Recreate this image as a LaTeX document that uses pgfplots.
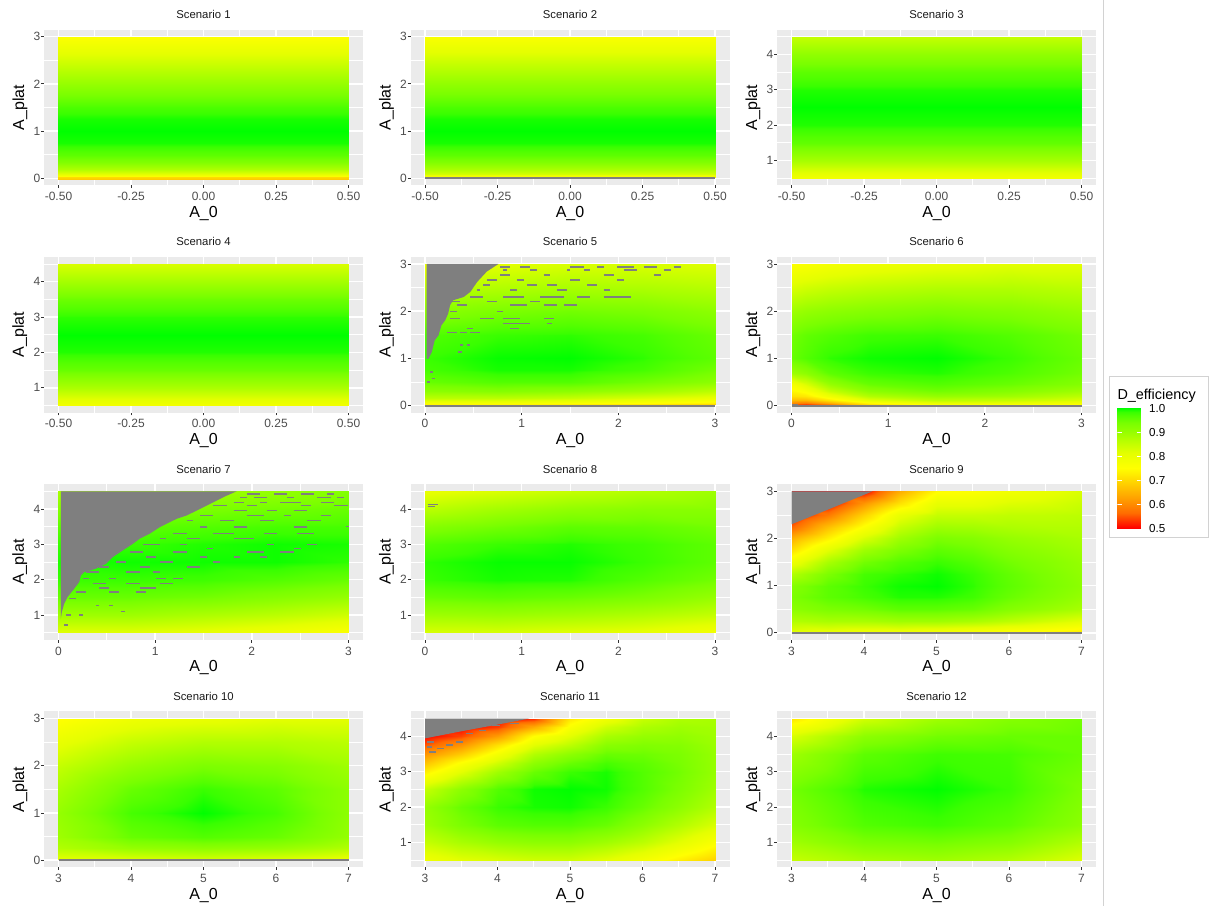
\documentclass[border=0pt]{standalone}
\usepackage{fontspec}
\setmainfont{Liberation Sans}
\usepackage{pgfplots}
\pgfplotsset{compat=1.18}
\definecolor{ggbg}{HTML}{EBEBEB}
\definecolor{gray50}{HTML}{7F7F7F}
\definecolor{gg30}{HTML}{4D4D4D}
\definecolor{gg20}{HTML}{333333}
\definecolor{gg10}{HTML}{1A1A1A}
\definecolor{frame}{HTML}{D2D2D2}
\pgfplotsset{
 colormap={eff}{rgb255(0cm)=(255,0,0); rgb255(2cm)=(255,108,0); rgb255(4cm)=(255,161,0); rgb255(6cm)=(255,209,0); rgb255(8cm)=(255,255,0); rgb255(10cm)=(228,255,0); rgb255(12cm)=(174,255,0); rgb255(13cm)=(147,255,0); rgb255(14cm)=(121,255,0); rgb255(15cm)=(83,255,0); rgb255(15.5cm)=(57,255,0); rgb255(16cm)=(0,255,0)},
 panel/.style={
  scale only axis, width=239.25pt, height=116.8pt, anchor=north west,
  axis background/.style={fill=ggbg},
  axis line style={draw=none},
  tick align=outside, tick pos=left,
  major tick length=2.1pt, minor tick length=0pt,
  major tick style={draw=gg20, line width=0.55pt},
  minor tick style={draw=none},
  grid=both,
  major grid style={draw=white, line width=1.1pt},
  minor grid style={draw=white, line width=0.55pt},
  tick label style={font=\fontsize{9}{10}\selectfont, text=gg30},
  xticklabel style={inner sep=0pt, yshift=-2.9pt},
  yticklabel style={inner sep=0pt, xshift=-0.4pt},
  /pgf/number format/assume math mode=true,
  every axis title/.style={at={(axis description cs:0.5,1.0702)}, anchor=base, font=\fontsize{8.5}{9}\selectfont, text=gg10, inner sep=0pt},
  every axis x label/.style={at={(axis description cs:0.5,-0.2055)}, anchor=base, font=\fontsize{12}{13}\selectfont, inner sep=0pt},
  every axis y label/.style={at={(axis description cs:-0.0627,0.5)}, anchor=base, rotate=90, font=\fontsize{12}{13}\selectfont, inner sep=0pt},
  xlabel={A\_0}, ylabel={A\_plat},
  colormap name=eff, point meta min=0.5, point meta max=1,
 },
 xA/.style={xmin=-0.55, xmax=0.55, xtick={-0.5,-0.25,0,0.25,0.5}, xticklabels={-0.50,-0.25,0.00,0.25,0.50}, minor xtick={-0.375,-0.125,0.125,0.375}},
 xB/.style={xmin=-0.15, xmax=3.15, xtick={0,1,2,3}, xticklabels={0,1,2,3}, minor xtick={0.5,1.5,2.5}},
 xC/.style={xmin=2.8, xmax=7.2, xtick={3,4,5,6,7}, xticklabels={3,4,5,6,7}, minor xtick={3.5,4.5,5.5,6.5}},
 yA/.style={ymin=-0.15, ymax=3.15, ytick={0,1,2,3}, yticklabels={0,1,2,3}, minor ytick={0.5,1.5,2.5}},
 yB/.style={ymin=0.3, ymax=4.7, ytick={1,2,3,4}, yticklabels={1,2,3,4}, minor ytick={0.5,1.5,2.5,3.5,4.5}},
 heat/.style={surf, shader=interp, point meta=explicit, forget plot},
 gbox/.style={fill=gray50, draw=none, forget plot},
 dash/.style={draw=none, forget plot, error bars/.cd, x dir=plus, x explicit, error mark=none, error bar style={draw=gray50, line width=1.1pt}},
}
\begin{document}
\begin{tikzpicture}
\path[use as bounding box] (0,0) rectangle (907.5pt,679.5pt);
\draw[frame, line width=0.75pt] (827.6pt,0pt) -- (827.6pt,679.5pt);

% ---------- Scenario 1
\begin{axis}[panel, xA, yA, at={(33pt,657.3pt)}, title={Scenario 1}]
\addplot[heat, mesh/cols=2] table[row sep=\\, x=x, y=y, meta=c] {x y c\\
-0.5 -0.024 0.68\\ 0.5 -0.024 0.68\\
-0.5 0.022 0.70\\ 0.5 0.022 0.70\\
-0.5 0.05 0.763\\ 0.5 0.05 0.763\\
-0.5 0.1 0.813\\ 0.5 0.1 0.813\\
-0.5 0.2 0.877\\ 0.5 0.2 0.877\\
-0.5 0.35 0.929\\ 0.5 0.35 0.929\\
-0.5 0.5 0.961\\ 0.5 0.5 0.961\\
-0.5 0.75 0.9935\\ 0.5 0.75 0.9935\\
-0.5 1.0 1.0\\ 0.5 1.0 1.0\\
-0.5 1.25 0.9935\\ 0.5 1.25 0.9935\\
-0.5 1.5 0.973\\ 0.5 1.5 0.973\\
-0.5 2.0 0.904\\ 0.5 2.0 0.904\\
-0.5 2.5 0.831\\ 0.5 2.5 0.831\\
-0.5 3.0 0.757\\ 0.5 3.0 0.757\\
};
\end{axis}

% ---------- Scenario 2
\begin{axis}[panel, xA, yA, at={(307.875pt,657.3pt)}, title={Scenario 2}]
\addplot[heat, mesh/cols=2] table[row sep=\\, x=x, y=y, meta=c] {x y c\\
-0.5 0.022 0.757\\ 0.5 0.022 0.757\\
-0.5 0.06 0.801\\ 0.5 0.06 0.801\\
-0.5 0.1 0.831\\ 0.5 0.1 0.831\\
-0.5 0.2 0.882\\ 0.5 0.2 0.882\\
-0.5 0.35 0.929\\ 0.5 0.35 0.929\\
-0.5 0.5 0.961\\ 0.5 0.5 0.961\\
-0.5 0.75 0.9935\\ 0.5 0.75 0.9935\\
-0.5 1.0 1.0\\ 0.5 1.0 1.0\\
-0.5 1.25 0.9935\\ 0.5 1.25 0.9935\\
-0.5 1.5 0.973\\ 0.5 1.5 0.973\\
-0.5 2.0 0.909\\ 0.5 2.0 0.909\\
-0.5 2.5 0.837\\ 0.5 2.5 0.837\\
-0.5 3.0 0.763\\ 0.5 3.0 0.763\\
};
\addplot[gbox] coordinates {(-0.5,-0.024) (0.5,-0.024) (0.5,0.022) (-0.5,0.022)} -- cycle;
\end{axis}

% ---------- Scenario 3
\begin{axis}[panel, xA, yB, at={(582.75pt,657.3pt)}, title={Scenario 3}]
\addplot[heat, mesh/cols=2] table[row sep=\\, x=x, y=y, meta=c] {x y c\\
-0.5 0.5 0.782\\ 0.5 0.5 0.782\\
-0.5 1.0 0.882\\ 0.5 1.0 0.882\\
-0.5 1.5 0.957\\ 0.5 1.5 0.957\\
-0.5 2.0 0.991\\ 0.5 2.0 0.991\\
-0.5 2.5 1.0\\ 0.5 2.5 1.0\\
-0.5 3.0 0.991\\ 0.5 3.0 0.991\\
-0.5 3.5 0.961\\ 0.5 3.5 0.961\\
-0.5 4.0 0.909\\ 0.5 4.0 0.909\\
-0.5 4.5 0.849\\ 0.5 4.5 0.849\\
};
\end{axis}

% ---------- Scenario 4
\begin{axis}[panel, xA, yB, at={(33pt,486.825pt)}, title={Scenario 4}]
\addplot[heat, mesh/cols=2] table[row sep=\\, x=x, y=y, meta=c] {x y c\\
-0.5 0.5 0.776\\ 0.5 0.5 0.776\\
-0.5 1.0 0.877\\ 0.5 1.0 0.877\\
-0.5 1.5 0.952\\ 0.5 1.5 0.952\\
-0.5 2.0 0.991\\ 0.5 2.0 0.991\\
-0.5 2.5 1.0\\ 0.5 2.5 1.0\\
-0.5 3.0 0.9875\\ 0.5 3.0 0.9875\\
-0.5 3.5 0.948\\ 0.5 3.5 0.948\\
-0.5 4.0 0.888\\ 0.5 4.0 0.888\\
-0.5 4.5 0.825\\ 0.5 4.5 0.825\\
};
\end{axis}

% ---------- Scenario 5
\begin{axis}[panel, xB, yA, at={(307.875pt,486.825pt)}, title={Scenario 5}]
\addplot[heat, mesh/cols=5] table[row sep=\\, x=x, y=y, meta=c] {x y c\\
0 0.022 0.70\\ 0.75 0.022 0.70\\ 1.5 0.022 0.69\\ 2.25 0.022 0.68\\ 3 0.022 0.66\\
0 0.06 0.776\\ 0.75 0.06 0.776\\ 1.5 0.06 0.763\\ 2.25 0.06 0.75\\ 3 0.06 0.73\\
0 0.15 0.860\\ 0.75 0.15 0.860\\ 1.5 0.15 0.849\\ 2.25 0.15 0.825\\ 3 0.15 0.801\\
0 0.3 0.914\\ 0.75 0.3 0.924\\ 1.5 0.3 0.914\\ 2.25 0.3 0.893\\ 3 0.3 0.860\\
0 0.5 0.952\\ 0.75 0.5 0.969\\ 1.5 0.5 0.969\\ 2.25 0.5 0.943\\ 3 0.5 0.914\\
0 0.75 0.977\\ 0.75 0.75 0.9935\\ 1.5 0.75 0.9935\\ 2.25 0.75 0.977\\ 3 0.75 0.943\\
0 1.0 0.984\\ 0.75 1.0 0.998\\ 1.5 1.0 1.0\\ 2.25 1.0 0.9875\\ 3 1.0 0.961\\
0 1.5 0.969\\ 0.75 1.5 0.984\\ 1.5 1.5 0.9875\\ 2.25 1.5 0.977\\ 3 1.5 0.952\\
0 2.0 0.914\\ 0.75 2.0 0.934\\ 1.5 2.0 0.943\\ 2.25 2.0 0.934\\ 3 2.0 0.914\\
0 2.5 0.860\\ 0.75 2.5 0.871\\ 1.5 2.5 0.882\\ 2.25 2.5 0.877\\ 3 2.5 0.866\\
0 3.0 0.801\\ 0.75 3.0 0.813\\ 1.5 3.0 0.825\\ 2.25 3.0 0.825\\ 3 3.0 0.819\\
};
\addplot[gbox] coordinates {(0,-0.024) (3,-0.024) (3,0.022) (0,0.022)} -- cycle;
\addplot[gbox] coordinates {(0.017,3.0) (0.76,3.0) (0.64,2.84) (0.54,2.62) (0.47,2.41) (0.40,2.30) (0.29,2.23) (0.26,2.13) (0.24,1.95) (0.21,1.81) (0.17,1.70) (0.14,1.49) (0.10,1.38) (0.07,1.13) (0.035,0.99) (0.017,0.99)} -- cycle;
\addplot[dash] table[row sep=\\, x=x, y=y, x error=w] {x y w\\
0.778 2.94 0.103\\ 0.985 2.94 0.104\\ 1.504 2.94 0.138\\ 1.780 2.94 0.069\\ 1.988 2.94 0.172\\ 2.264 2.94 0.138\\ 2.575 2.94 0.069\\
0.812 2.87 0.035\\ 1.089 2.87 0.069\\ 1.469 2.87 0.035\\ 1.642 2.87 0.069\\ 2.057 2.87 0.138\\ 2.471 2.87 0.070\\
0.778 2.77 0.103\\ 1.227 2.77 0.069\\ 1.849 2.77 0.104\\ 2.368 2.77 0.069\\
0.639 2.66 0.104\\ 0.951 2.66 0.069\\ 1.504 2.66 0.103\\ 1.988 2.66 0.069\\
0.605 2.55 0.069\\ 1.054 2.55 0.104\\ 1.262 2.55 0.103\\ 1.676 2.55 0.104\\
0.536 2.45 0.034\\ 0.881 2.45 0.070\\ 1.365 2.45 0.104\\ 1.849 2.45 0.069\\
0.467 2.30 0.138\\ 0.812 2.30 0.208\\ 1.193 2.30 0.241\\ 1.573 2.30 0.138\\ 1.849 2.30 0.277\\
0.190 2.20 0.173\\ 0.639 2.20 0.104\\ 1.089 2.20 0.104\\
0.328 2.13 0.104\\ 0.881 2.13 0.173\\ 1.227 2.13 0.138\\ 1.434 2.13 0.139\\
0.259 1.99 0.069\\ 0.743 1.99 0.069\\
0.259 1.84 0.104\\ 0.570 1.84 0.139\\ 0.812 1.84 0.173\\ 1.227 1.84 0.104\\
0.812 1.74 0.277\\ 1.262 1.74 0.051\\
0.432 1.63 0.069\\ 0.881 1.63 0.087\\
0.225 1.55 0.103\\ 0.363 1.55 0.069\\ 0.467 1.55 0.103\\
0.363 1.28 0.035\\ 0.432 1.28 0.035\\
0.346 1.13 0.034\\
0.052 0.71 0.034\\
0.069 0.57 0.035\\
0.024 0.50 0.028\\
};
\end{axis}

% ---------- Scenario 6
\begin{axis}[panel, xB, yA, at={(582.75pt,486.825pt)}, title={Scenario 6}]
\addplot[heat, mesh/cols=7] table[row sep=\\, x=x, y=y, meta=c] {x y c\\
0 0.022 0.55\\ 0.15 0.022 0.50\\ 0.4 0.022 0.55\\ 0.8 0.022 0.68\\ 1.5 0.022 0.74\\ 2.25 0.022 0.74\\ 3 0.022 0.73\\
0 0.06 0.60\\ 0.15 0.06 0.58\\ 0.4 0.06 0.64\\ 0.8 0.06 0.74\\ 1.5 0.06 0.801\\ 2.25 0.06 0.801\\ 3 0.06 0.776\\
0 0.12 0.66\\ 0.15 0.12 0.66\\ 0.4 0.12 0.72\\ 0.8 0.12 0.813\\ 1.5 0.12 0.860\\ 2.25 0.12 0.849\\ 3 0.12 0.825\\
0 0.2 0.71\\ 0.15 0.2 0.72\\ 0.4 0.2 0.788\\ 0.8 0.2 0.871\\ 1.5 0.2 0.904\\ 2.25 0.2 0.893\\ 3 0.2 0.860\\
0 0.3 0.74\\ 0.15 0.3 0.763\\ 0.4 0.3 0.849\\ 0.8 0.3 0.914\\ 1.5 0.3 0.943\\ 2.25 0.3 0.924\\ 3 0.3 0.893\\
0 0.45 0.776\\ 0.15 0.45 0.825\\ 0.4 0.45 0.904\\ 0.8 0.45 0.952\\ 1.5 0.45 0.969\\ 2.25 0.45 0.952\\ 3 0.45 0.924\\
0 0.7 0.893\\ 0.15 0.7 0.914\\ 0.4 0.7 0.961\\ 0.8 0.7 0.984\\ 1.5 0.7 0.991\\ 2.25 0.7 0.973\\ 3 0.7 0.943\\
0 1.0 0.952\\ 0.15 1.0 0.969\\ 0.4 1.0 0.9875\\ 0.8 1.0 0.996\\ 1.5 1.0 1.0\\ 2.25 1.0 0.984\\ 3 1.0 0.952\\
0 1.5 0.943\\ 0.15 1.5 0.957\\ 0.4 1.5 0.969\\ 0.8 1.5 0.981\\ 1.5 1.5 0.984\\ 2.25 1.5 0.969\\ 3 1.5 0.943\\
0 2.0 0.893\\ 0.15 2.0 0.904\\ 0.4 2.0 0.914\\ 0.8 2.0 0.924\\ 1.5 2.0 0.934\\ 2.25 2.0 0.924\\ 3 2.0 0.904\\
0 2.5 0.825\\ 0.15 2.5 0.837\\ 0.4 2.5 0.849\\ 0.8 2.5 0.860\\ 1.5 2.5 0.871\\ 2.25 2.5 0.871\\ 3 2.5 0.860\\
0 3.0 0.757\\ 0.15 3.0 0.763\\ 0.4 3.0 0.776\\ 0.8 3.0 0.788\\ 1.5 3.0 0.801\\ 2.25 3.0 0.813\\ 3 3.0 0.813\\
};
\addplot[gbox] coordinates {(0,-0.024) (3,-0.024) (3,0.022) (0,0.022)} -- cycle;
\addplot[gbox] coordinates {(0,-0.024) (0.07,-0.024) (0.07,0.035) (0,0.035)} -- cycle;
\end{axis}

% ---------- Scenario 7
\begin{axis}[panel, xB, yB, at={(33pt,316.35pt)}, title={Scenario 7}]
\addplot[heat, mesh/cols=5] table[row sep=\\, x=x, y=y, meta=c] {x y c\\
0 0.5 0.813\\ 0.75 0.5 0.813\\ 1.5 0.5 0.801\\ 2.25 0.5 0.782\\ 3 0.5 0.757\\
0 1.0 0.893\\ 0.75 1.0 0.893\\ 1.5 1.0 0.877\\ 2.25 1.0 0.860\\ 3 1.0 0.837\\
0 1.5 0.952\\ 0.75 1.5 0.952\\ 1.5 1.5 0.943\\ 2.25 1.5 0.924\\ 3 1.5 0.904\\
0 2.0 0.984\\ 0.75 2.0 0.984\\ 1.5 2.0 0.981\\ 2.25 2.0 0.969\\ 3 2.0 0.952\\
0 2.5 0.991\\ 0.75 2.5 0.996\\ 1.5 2.5 0.996\\ 2.25 2.5 0.996\\ 3 2.5 0.9875\\
0 3.0 0.984\\ 0.75 3.0 0.984\\ 1.5 3.0 0.991\\ 2.25 3.0 0.996\\ 3 3.0 0.9935\\
0 3.5 0.961\\ 0.75 3.5 0.961\\ 1.5 3.5 0.969\\ 2.25 3.5 0.977\\ 3 3.5 0.977\\
0 4.0 0.924\\ 0.75 4.0 0.924\\ 1.5 4.0 0.934\\ 2.25 4.0 0.943\\ 3 4.0 0.952\\
0 4.5 0.882\\ 0.75 4.5 0.882\\ 1.5 4.5 0.893\\ 2.25 4.5 0.904\\ 3 4.5 0.924\\
};
\addplot[gbox] coordinates {(0.024,4.5) (1.845,4.5) (1.741,4.378) (1.602,4.19) (1.464,4.0) (1.325,3.815) (1.221,3.72) (1.117,3.58) (1.048,3.486) (0.943,3.30) (0.839,3.157) (0.77,3.016) (0.666,2.83) (0.562,2.64) (0.493,2.453) (0.388,2.312) (0.267,2.218) (0.232,2.124) (0.215,1.937) (0.163,1.749) (0.094,1.514) (0.059,1.326) (0.035,1.092) (0.024,0.904)} -- cycle;
\addplot[dash] table[row sep=\\, x=x, y=y, x error=w] {x y w\\
1.949 4.42 0.139\\ 2.227 4.42 0.139\\ 2.504 4.42 0.139\\ 2.782 4.42 0.069\\
1.880 4.33 0.069\\ 2.019 4.33 0.138\\ 2.366 4.33 0.069\\ 2.678 4.33 0.139\\ 2.886 4.33 0.069\\
1.811 4.19 0.104\\ 2.088 4.19 0.069\\ 2.296 4.19 0.208\\ 2.712 4.19 0.139\\
1.602 4.10 0.139\\ 1.949 4.10 0.104\\ 2.504 4.10 0.104\\ 2.851 4.10 0.139\\
1.811 3.96 0.138\\ 2.157 3.96 0.105\\ 2.435 3.96 0.139\\
1.464 3.81 0.138\\ 1.949 3.81 0.174\\ 2.331 3.81 0.069\\ 2.712 3.81 0.105\\
1.325 3.67 0.069\\ 1.672 3.67 0.139\\ 2.088 3.67 0.139\\ 2.574 3.67 0.138\\
2.973 3.51 0.027\\
1.464 3.49 0.069\\ 1.811 3.49 0.138\\ 2.435 3.49 0.139\\
1.186 3.30 0.139\\ 1.602 3.30 0.209\\ 2.123 3.30 0.139\\ 2.470 3.30 0.173\\
1.048 3.16 0.069\\ 1.325 3.16 0.139\\ 1.811 3.16 0.208\\
0.874 2.99 0.174\\ 1.256 2.99 0.069\\ 2.157 2.99 0.070\\ 2.574 2.99 0.104\\
1.533 2.89 0.069\\ 2.435 2.89 0.069\\
0.735 2.78 0.139\\ 1.186 2.78 0.139\\ 1.949 2.78 0.174\\ 2.296 2.78 0.139\\
0.908 2.64 0.105\\ 1.464 2.64 0.069\\ 1.811 2.64 0.069\\ 2.088 2.64 0.069\\
0.597 2.50 0.103\\ 1.048 2.50 0.138\\ 1.602 2.50 0.070\\
0.423 2.36 0.104\\ 0.839 2.36 0.104\\ 1.325 2.36 0.139\\
0.284 2.22 0.139\\ 0.700 2.22 0.139\\ 0.978 2.22 0.070\\
0.250 2.03 0.069\\ 0.527 2.03 0.070\\ 1.013 2.03 0.104\\ 1.186 2.03 0.104\\
0.354 1.89 0.139\\ 0.700 1.89 0.139\\ 1.048 1.89 0.138\\
0.423 1.77 0.104\\ 0.839 1.77 0.174\\
0.180 1.65 0.104\\ 0.527 1.65 0.104\\ 0.805 1.65 0.103\\
0.111 1.47 0.069\\
0.388 1.28 0.035\\ 0.527 1.28 0.035\\
0.649 1.11 0.034\\
0.076 1.00 0.052\\ 0.215 1.00 0.035\\
0.059 0.72 0.035\\
};
\end{axis}

% ---------- Scenario 8
\begin{axis}[panel, xB, yB, at={(307.875pt,316.35pt)}, title={Scenario 8}]
\addplot[heat, mesh/cols=5] table[row sep=\\, x=x, y=y, meta=c] {x y c\\
0 0.5 0.825\\ 0.75 0.5 0.825\\ 1.5 0.5 0.813\\ 2.25 0.5 0.801\\ 3 0.5 0.776\\
0 1.0 0.893\\ 0.75 1.0 0.898\\ 1.5 1.0 0.888\\ 2.25 1.0 0.871\\ 3 1.0 0.849\\
0 1.5 0.952\\ 0.75 1.5 0.961\\ 1.5 1.5 0.952\\ 2.25 1.5 0.934\\ 3 1.5 0.904\\
0 2.0 0.984\\ 0.75 2.0 0.9935\\ 1.5 2.0 0.991\\ 2.25 2.0 0.969\\ 3 2.0 0.943\\
0 2.5 0.9875\\ 0.75 2.5 0.998\\ 1.5 2.5 0.998\\ 2.25 2.5 0.984\\ 3 2.5 0.961\\
0 3.0 0.969\\ 0.75 3.0 0.984\\ 1.5 3.0 0.991\\ 2.25 3.0 0.981\\ 3 3.0 0.961\\
0 3.5 0.924\\ 0.75 3.5 0.943\\ 1.5 3.5 0.961\\ 2.25 3.5 0.957\\ 3 3.5 0.943\\
0 4.0 0.860\\ 0.75 4.0 0.888\\ 1.5 4.0 0.909\\ 2.25 4.0 0.919\\ 3 4.0 0.919\\
0 4.5 0.801\\ 0.75 4.5 0.825\\ 1.5 4.5 0.849\\ 2.25 4.5 0.871\\ 3 4.5 0.893\\
};
\addplot[dash] table[row sep=\\, x=x, y=y, x error=w] {x y w\\
0.03 4.13 0.10\\ 0.03 4.07 0.07\\
};
\end{axis}

% ---------- Scenario 9
\begin{axis}[panel, xC, yA, at={(582.75pt,316.35pt)}, title={Scenario 9}]
\addplot[heat, mesh/cols=9] table[row sep=\\, x=x, y=y, meta=c] {x y c\\
3 0.022 0.813\\ 3.5 0.022 0.801\\ 4 0.022 0.788\\ 4.5 0.022 0.788\\ 5 0.022 0.776\\ 5.5 0.022 0.763\\ 6 0.022 0.75\\ 6.5 0.022 0.74\\ 7 0.022 0.72\\
3 0.25 0.871\\ 3.5 0.25 0.882\\ 4 0.25 0.882\\ 4.5 0.25 0.893\\ 5 0.25 0.893\\ 5.5 0.25 0.882\\ 6 0.25 0.860\\ 6.5 0.25 0.837\\ 7 0.25 0.813\\
3 0.5 0.914\\ 3.5 0.5 0.934\\ 4 0.5 0.943\\ 4.5 0.5 0.961\\ 5 0.5 0.961\\ 5.5 0.5 0.952\\ 6 0.5 0.924\\ 6.5 0.5 0.904\\ 7 0.5 0.882\\
3 0.75 0.934\\ 3.5 0.75 0.961\\ 4 0.75 0.977\\ 4.5 0.75 0.991\\ 5 0.75 0.991\\ 5.5 0.75 0.981\\ 6 0.75 0.952\\ 6.5 0.75 0.929\\ 7 0.75 0.904\\
3 1.0 0.924\\ 3.5 1.0 0.961\\ 4 1.0 0.984\\ 4.5 1.0 0.996\\ 5 1.0 1.0\\ 5.5 1.0 0.9875\\ 6 1.0 0.961\\ 6.5 1.0 0.938\\ 7 1.0 0.914\\
3 1.25 0.871\\ 3.5 1.25 0.934\\ 4 1.25 0.977\\ 4.5 1.25 0.9875\\ 5 1.25 0.996\\ 5.5 1.25 0.984\\ 6 1.25 0.957\\ 6.5 1.25 0.934\\ 7 1.25 0.909\\
3 1.5 0.788\\ 3.5 1.5 0.882\\ 4 1.5 0.943\\ 4.5 1.5 0.969\\ 5 1.5 0.984\\ 5.5 1.5 0.969\\ 6 1.5 0.943\\ 6.5 1.5 0.924\\ 7 1.5 0.904\\
3 1.75 0.71\\ 3.5 1.75 0.813\\ 4 1.75 0.893\\ 4.5 1.75 0.934\\ 5 1.75 0.961\\ 5.5 1.75 0.948\\ 6 1.75 0.924\\ 6.5 1.75 0.909\\ 7 1.75 0.893\\
3 2.0 0.645\\ 3.5 2.0 0.73\\ 4 2.0 0.825\\ 4.5 2.0 0.893\\ 5 2.0 0.934\\ 5.5 2.0 0.924\\ 6 2.0 0.904\\ 6.5 2.0 0.893\\ 7 2.0 0.882\\
3 2.25 0.56\\ 3.5 2.25 0.665\\ 4 2.25 0.757\\ 4.5 2.25 0.849\\ 5 2.25 0.893\\ 5.5 2.25 0.888\\ 6 2.25 0.877\\ 6.5 2.25 0.871\\ 7 2.25 0.871\\
3 2.5 0.40\\ 3.5 2.5 0.58\\ 4 2.5 0.69\\ 4.5 2.5 0.801\\ 5 2.5 0.849\\ 5.5 2.5 0.849\\ 6 2.5 0.855\\ 6.5 2.5 0.855\\ 7 2.5 0.860\\
3 2.75 0.35\\ 3.5 2.75 0.40\\ 4 2.75 0.61\\ 4.5 2.75 0.71\\ 5 2.75 0.801\\ 5.5 2.75 0.801\\ 6 2.75 0.819\\ 6.5 2.75 0.825\\ 7 2.75 0.843\\
3 3.0 0.30\\ 3.5 3.0 0.35\\ 4 3.0 0.45\\ 4.5 3.0 0.64\\ 5 3.0 0.745\\ 5.5 3.0 0.757\\ 6 3.0 0.782\\ 6.5 3.0 0.801\\ 7 3.0 0.825\\
};
\addplot[gbox] coordinates {(3,-0.024) (7,-0.024) (7,0.022) (3,0.022)} -- cycle;
\addplot[gbox] coordinates {(3,3.0) (3,2.30) (3.5,2.61) (4.12,3.0)} -- cycle;
\end{axis}

% ---------- Scenario 10
\begin{axis}[panel, xC, yA, at={(33pt,145.875pt)}, title={Scenario 10}]
\addplot[heat, mesh/cols=5] table[row sep=\\, x=x, y=y, meta=c] {x y c\\
3 0.022 0.813\\ 4 0.022 0.825\\ 5 0.022 0.837\\ 6 0.022 0.825\\ 7 0.022 0.801\\
3 0.25 0.871\\ 4 0.25 0.904\\ 5 0.25 0.914\\ 6 0.25 0.904\\ 7 0.25 0.871\\
3 0.5 0.893\\ 4 0.5 0.952\\ 5 0.5 0.969\\ 6 0.5 0.952\\ 7 0.5 0.904\\
3 1.0 0.904\\ 4 1.0 0.977\\ 5 1.0 1.0\\ 6 1.0 0.977\\ 7 1.0 0.914\\
3 1.5 0.882\\ 4 1.5 0.952\\ 5 1.5 0.984\\ 6 1.5 0.961\\ 7 1.5 0.914\\
3 2.0 0.849\\ 4 2.0 0.904\\ 5 2.0 0.934\\ 6 2.0 0.924\\ 7 2.0 0.893\\
3 2.5 0.801\\ 4 2.5 0.849\\ 5 2.5 0.871\\ 6 2.5 0.871\\ 7 2.5 0.860\\
3 3.0 0.75\\ 4 3.0 0.788\\ 5 3.0 0.801\\ 6 3.0 0.813\\ 7 3.0 0.813\\
};
\addplot[gbox] coordinates {(3,-0.024) (7,-0.024) (7,0.022) (3,0.022)} -- cycle;
\end{axis}

% ---------- Scenario 11
\begin{axis}[panel, xC, yB, at={(307.875pt,145.875pt)}, title={Scenario 11}]
\addplot[heat, mesh/cols=9] table[row sep=\\, x=x, y=y, meta=c] {x y c\\
3 0.5 0.788\\ 3.5 0.5 0.813\\ 4 0.5 0.825\\ 4.5 0.5 0.837\\ 5 0.5 0.837\\ 5.5 0.5 0.813\\ 6 0.5 0.776\\ 6.5 0.5 0.73\\ 7 0.5 0.69\\
3 1.0 0.849\\ 3.5 1.0 0.882\\ 4 1.0 0.904\\ 4.5 1.0 0.914\\ 5 1.0 0.914\\ 5.5 1.0 0.893\\ 6 1.0 0.860\\ 6.5 1.0 0.813\\ 7 1.0 0.763\\
3 1.5 0.893\\ 3.5 1.5 0.934\\ 4 1.5 0.961\\ 4.5 1.5 0.969\\ 5 1.5 0.969\\ 5.5 1.5 0.952\\ 6 1.5 0.914\\ 6.5 1.5 0.871\\ 7 1.5 0.825\\
3 2.0 0.904\\ 3.5 2.0 0.952\\ 4 2.0 0.984\\ 4.5 2.0 0.9935\\ 5 2.0 0.996\\ 5.5 2.0 0.984\\ 6 2.0 0.952\\ 6.5 2.0 0.914\\ 7 2.0 0.871\\
3 2.5 0.849\\ 3.5 2.5 0.914\\ 4 2.5 0.969\\ 4.5 2.5 0.996\\ 5 2.5 1.0\\ 5.5 2.5 0.996\\ 6 2.5 0.969\\ 6.5 2.5 0.934\\ 7 2.5 0.893\\
3 3.0 0.73\\ 3.5 3.0 0.813\\ 4 3.0 0.893\\ 4.5 3.0 0.952\\ 5 3.0 0.984\\ 5.5 3.0 0.9935\\ 6 3.0 0.969\\ 6.5 3.0 0.943\\ 7 3.0 0.904\\
3 3.25 0.67\\ 3.5 3.25 0.757\\ 4 3.25 0.837\\ 4.5 3.25 0.914\\ 5 3.25 0.952\\ 5.5 3.25 0.977\\ 6 3.25 0.961\\ 6.5 3.25 0.938\\ 7 3.25 0.904\\
3 3.5 0.61\\ 3.5 3.5 0.68\\ 4 3.5 0.776\\ 4.5 3.5 0.871\\ 5 3.5 0.914\\ 5.5 3.5 0.952\\ 6 3.5 0.948\\ 6.5 3.5 0.934\\ 7 3.5 0.904\\
3 3.75 0.55\\ 3.5 3.75 0.61\\ 4 3.75 0.71\\ 4.5 3.75 0.813\\ 5 3.75 0.860\\ 5.5 3.75 0.919\\ 6 3.75 0.929\\ 6.5 3.75 0.924\\ 7 3.75 0.898\\
3 4.0 0.49\\ 3.5 4.0 0.54\\ 4 4.0 0.62\\ 4.5 4.0 0.75\\ 5 4.0 0.813\\ 5.5 4.0 0.882\\ 6 4.0 0.904\\ 6.5 4.0 0.909\\ 7 4.0 0.893\\
3 4.25 0.43\\ 3.5 4.25 0.47\\ 4 4.25 0.535\\ 4.5 4.25 0.64\\ 5 4.25 0.763\\ 5.5 4.25 0.837\\ 6 4.25 0.877\\ 6.5 4.25 0.893\\ 7 4.25 0.888\\
3 4.5 0.37\\ 3.5 4.5 0.40\\ 4 4.5 0.45\\ 4.5 4.5 0.53\\ 5 4.5 0.72\\ 5.5 4.5 0.788\\ 6 4.5 0.849\\ 6.5 4.5 0.877\\ 7 4.5 0.882\\
};
\addplot[gbox] coordinates {(3,4.5) (3,3.94) (3.5,4.14) (4,4.33) (4.44,4.5)} -- cycle;
\addplot[dash] table[row sep=\\, x=x, y=y, x error=w] {x y w\\
3.03 3.84 0.09\\ 3.03 3.70 0.07\\ 3.17 3.65 0.09\\ 3.06 3.56 0.09\\ 3.29 3.75 0.09\\
3.56 4.08 0.10\\ 3.75 4.17 0.09\\ 3.93 4.31 0.10\\ 4.17 4.36 0.13\\ 3.43 3.84 0.09\\
};
\end{axis}

% ---------- Scenario 12
\begin{axis}[panel, xC, yB, at={(582.75pt,145.875pt)}, title={Scenario 12}]
\addplot[heat, mesh/cols=5] table[row sep=\\, x=x, y=y, meta=c] {x y c\\
3 0.5 0.849\\ 4 0.5 0.882\\ 5 0.5 0.893\\ 6 0.5 0.871\\ 7 0.5 0.82\\
3 1.0 0.893\\ 4 1.0 0.934\\ 5 1.0 0.943\\ 6 1.0 0.924\\ 7 1.0 0.871\\
3 1.5 0.924\\ 4 1.5 0.969\\ 5 1.5 0.981\\ 6 1.5 0.961\\ 7 1.5 0.914\\
3 2.5 0.943\\ 4 2.5 0.991\\ 5 2.5 1.0\\ 6 2.5 0.984\\ 7 2.5 0.934\\
3 3.5 0.893\\ 4 3.5 0.961\\ 5 3.5 0.981\\ 6 3.5 0.977\\ 7 3.5 0.952\\
3 4.0 0.825\\ 4 4.0 0.914\\ 5 4.0 0.943\\ 6 4.0 0.952\\ 7 4.0 0.952\\
3 4.5 0.72\\ 4 4.5 0.837\\ 5 4.5 0.893\\ 6 4.5 0.924\\ 7 4.5 0.943\\
};
\end{axis}

% ---------- colour bar
\draw[frame, line width=0.6pt] (831.75pt,276.75pt) rectangle (906pt,397.5pt);
\begin{axis}[scale only axis, width=17.55pt, height=90pt, at={(837.975pt,283.275pt)}, anchor=south west,
  xmin=0, xmax=1, ymin=0.5, ymax=1, axis line style={draw=none}, xtick=\empty,
  ytick={0.5,0.6,0.7,0.8,0.9,1.0}, yticklabels={0.5,0.6,0.7,0.8,0.9,1.0},
  yticklabel pos=right, major tick length=0pt, major tick style={draw=none},
  yticklabel style={font=\fontsize{8.7}{9}\selectfont, inner sep=0pt, xshift=6.2pt, anchor=west},
  colormap name=eff, point meta min=0.5, point meta max=1,
  title={D\_efficiency},
  every axis title/.style={at={(axis description cs:0,1)}, anchor=base west, yshift=6.75pt, font=\fontsize{10.8}{12}\selectfont, inner sep=0pt}]
\addplot[heat, mesh/cols=2] table[row sep=\\, x=x, y=y, meta=c] {x y c\\
0 0.5 0.5\\ 1 0.5 0.5\\
0 0.5625 0.5625\\ 1 0.5625 0.5625\\
0 0.625 0.625\\ 1 0.625 0.625\\
0 0.6875 0.6875\\ 1 0.6875 0.6875\\
0 0.75 0.75\\ 1 0.75 0.75\\
0 0.8125 0.8125\\ 1 0.8125 0.8125\\
0 0.875 0.875\\ 1 0.875 0.875\\
0 0.90625 0.90625\\ 1 0.90625 0.90625\\
0 0.9375 0.9375\\ 1 0.9375 0.9375\\
0 0.96875 0.96875\\ 1 0.96875 0.96875\\
0 0.984375 0.984375\\ 1 0.984375 0.984375\\
0 1 1\\ 1 1 1\\
};
\addplot[draw=none, forget plot, error bars/.cd, x dir=plus, x explicit, error mark=none, error bar style={draw=white, line width=0.6pt}] table[row sep=\\, x=x, y=y, x error=w] {x y w\\
0 0.6 0.18\\ 0.82 0.6 0.18\\ 0 0.7 0.18\\ 0.82 0.7 0.18\\
0 0.8 0.18\\ 0.82 0.8 0.18\\ 0 0.9 0.18\\ 0.82 0.9 0.18\\
};
\end{axis}
\end{tikzpicture}
\end{document}
